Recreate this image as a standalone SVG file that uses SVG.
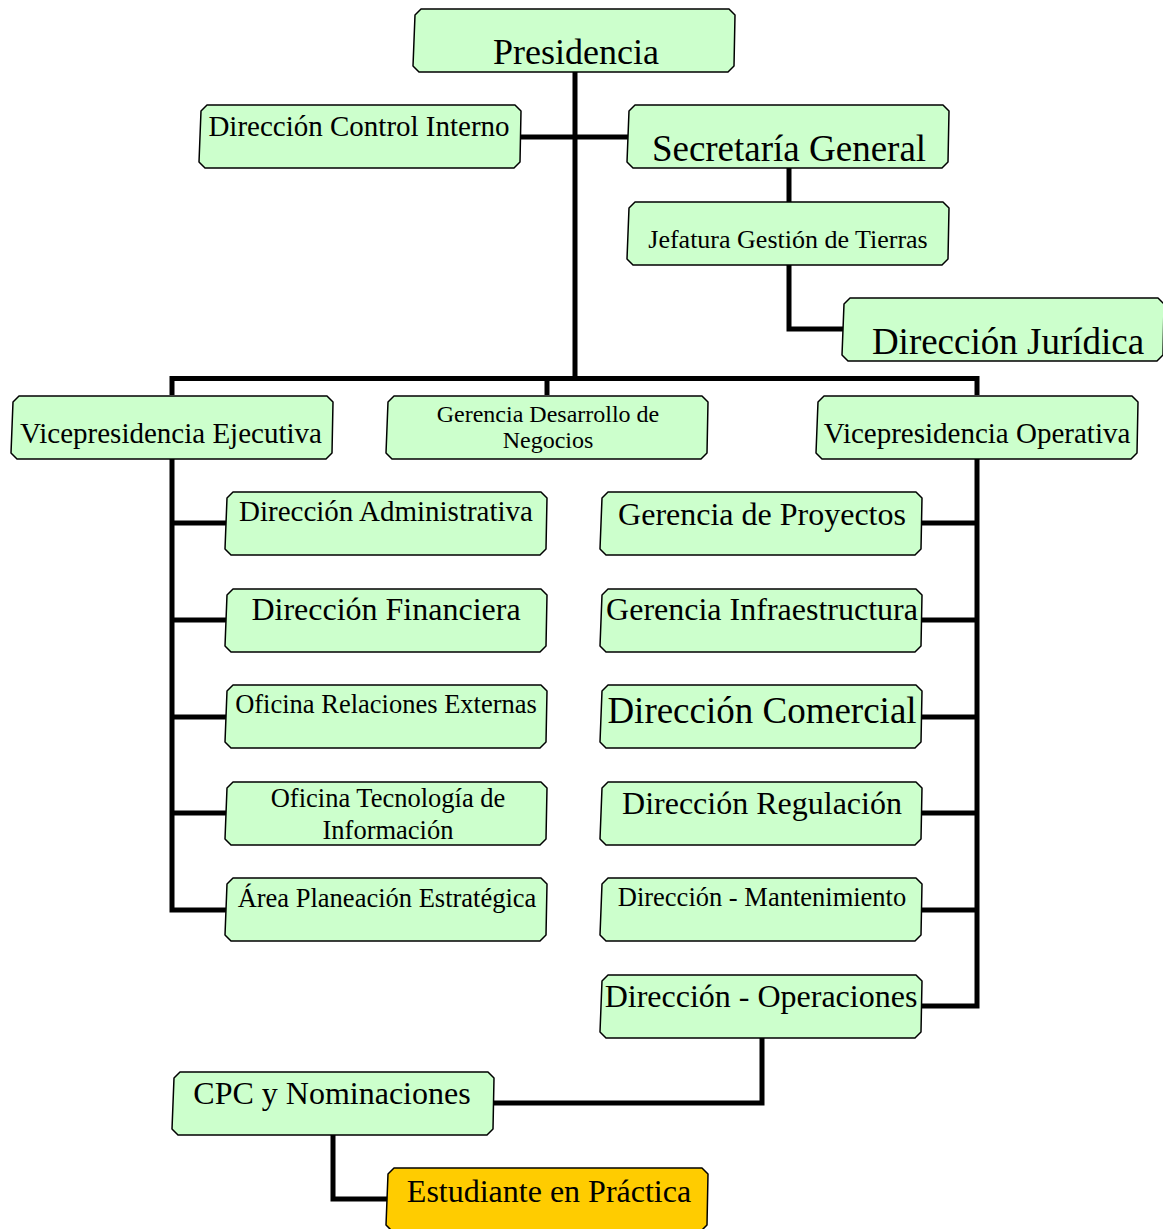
<svg xmlns="http://www.w3.org/2000/svg" xmlns:xlink="http://www.w3.org/1999/xlink" width="1163" height="1229" viewBox="0 0 1163 1229">
<defs>
<style>
.box{fill:#ccffcc;stroke:#000;stroke-width:1.5;stroke-linejoin:round}
.yel{fill:#ffcc00}
.t{font-family:"Liberation Serif","Times New Roman",serif;fill:#000;text-anchor:middle}
.c{fill:none;stroke:#000;stroke-width:5;stroke-linejoin:miter;stroke-linecap:butt}
</style>
<path id="b" d="M8,0 H316 L322,6 L321,57 L315,63 H6 L0,57 L2,6 Z"/>
</defs>
<rect width="1163" height="1229" fill="#fff"/>
<g id="connectors">
<polyline class="c" points="575,72 575,381"/>
<polyline class="c" points="521,137 628,137"/>
<polyline class="c" points="789,168 789,202"/>
<polyline class="c" points="789,265 789,329 843,329"/>
<polyline class="c" points="172,395 172,378.5 977,378.5 977,395"/>
<polyline class="c" points="547,378 547,395"/>
<polyline class="c" points="172,459 172,910 226,910"/>
<polyline class="c" points="172,523 226,523"/>
<polyline class="c" points="172,620 226,620"/>
<polyline class="c" points="172,717 226,717"/>
<polyline class="c" points="172,813 226,813"/>
<polyline class="c" points="977,459 977,1006 922,1006"/>
<polyline class="c" points="922,523 977,523"/>
<polyline class="c" points="922,620 977,620"/>
<polyline class="c" points="922,717 977,717"/>
<polyline class="c" points="922,813 977,813"/>
<polyline class="c" points="922,910 977,910"/>
<polyline class="c" points="762,1038 762,1103 493,1103"/>
<polyline class="c" points="333,1135 333,1199 387,1199"/>
</g>
<g id="n-presidencia"><use xlink:href="#b" href="#b" x="413" y="9" class="box"/><text class="t" x="576" y="64" font-size="36">Presidencia</text></g>
<g id="n-control"><use xlink:href="#b" href="#b" x="199" y="105" class="box"/><text class="t" x="359" y="136" font-size="29">Dirección Control Interno</text></g>
<g id="n-secretaria"><use xlink:href="#b" href="#b" x="627" y="105" class="box"/><text class="t" x="789" y="161" font-size="37">Secretaría General</text></g>
<g id="n-jefatura"><use xlink:href="#b" href="#b" x="627" y="202" class="box"/><text class="t" x="788" y="248" font-size="26">Jefatura Gestión de Tierras</text></g>
<g id="n-juridica"><use xlink:href="#b" href="#b" x="842" y="298" class="box"/><text class="t" x="1008" y="354" font-size="37">Dirección Jurídica</text></g>
<g id="n-vpe"><use xlink:href="#b" href="#b" x="11" y="396" class="box"/><text class="t" x="171" y="443" font-size="29">Vicepresidencia Ejecutiva</text></g>
<g id="n-gdn"><use xlink:href="#b" href="#b" x="386" y="396" class="box"/><text class="t" x="548" y="422" font-size="24">Gerencia Desarrollo de</text><text class="t" x="548" y="448" font-size="24">Negocios</text></g>
<g id="n-vpo"><use xlink:href="#b" href="#b" x="816" y="396" class="box"/><text class="t" x="977" y="443" font-size="29">Vicepresidencia Operativa</text></g>
<g id="n-admin"><use xlink:href="#b" href="#b" x="225" y="492" class="box"/><text class="t" x="386" y="521" font-size="29">Dirección Administrativa</text></g>
<g id="n-fin"><use xlink:href="#b" href="#b" x="225" y="589" class="box"/><text class="t" x="386" y="620" font-size="32">Dirección Financiera</text></g>
<g id="n-rel"><use xlink:href="#b" href="#b" x="225" y="685" class="box"/><text class="t" x="386" y="713" font-size="26.5">Oficina Relaciones Externas</text></g>
<g id="n-tec"><use xlink:href="#b" href="#b" x="225" y="782" class="box"/><text class="t" x="388" y="807" font-size="26.5">Oficina Tecnología de</text><text class="t" x="388" y="839" font-size="26.5">Información</text></g>
<g id="n-plan"><use xlink:href="#b" href="#b" x="225" y="878" class="box"/><text class="t" x="387" y="907" font-size="26.5">Área Planeación Estratégica</text></g>
<g id="n-proy"><use xlink:href="#b" href="#b" x="600" y="492" class="box"/><text class="t" x="762" y="525" font-size="32">Gerencia de Proyectos</text></g>
<g id="n-infra"><use xlink:href="#b" href="#b" x="600" y="589" class="box"/><text class="t" x="762" y="620" font-size="32">Gerencia Infraestructura</text></g>
<g id="n-com"><use xlink:href="#b" href="#b" x="600" y="685" class="box"/><text class="t" x="762" y="723" font-size="37">Dirección Comercial</text></g>
<g id="n-reg"><use xlink:href="#b" href="#b" x="600" y="782" class="box"/><text class="t" x="762" y="814" font-size="32">Dirección Regulación</text></g>
<g id="n-mant"><use xlink:href="#b" href="#b" x="600" y="878" class="box"/><text class="t" x="762" y="906" font-size="26.5">Dirección - Mantenimiento</text></g>
<g id="n-oper"><use xlink:href="#b" href="#b" x="600" y="975" class="box"/><text class="t" x="761" y="1007" font-size="32">Dirección - Operaciones</text></g>
<g id="n-cpc"><use xlink:href="#b" href="#b" x="172" y="1072" class="box"/><text class="t" x="332" y="1104" font-size="32">CPC y Nominaciones</text></g>
<g id="n-est"><use xlink:href="#b" href="#b" x="386" y="1168" class="box yel"/><text class="t" x="549" y="1202" font-size="32">Estudiante en Práctica</text></g>
</svg>
